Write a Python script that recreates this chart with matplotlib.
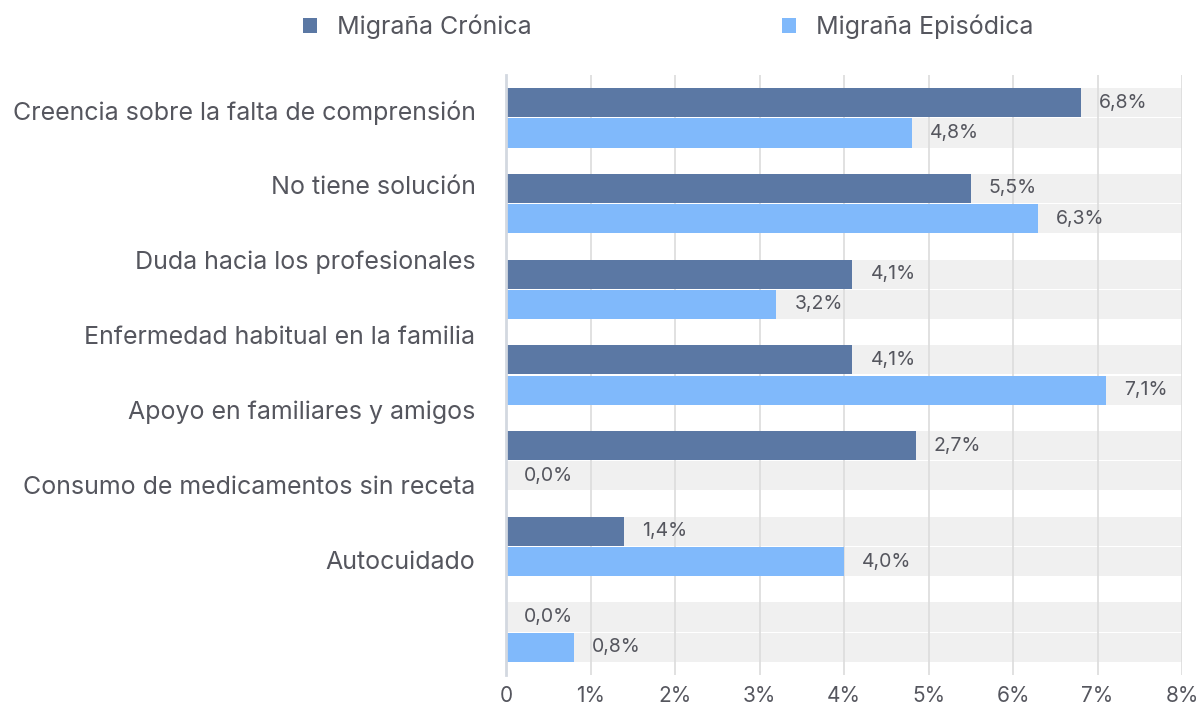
import matplotlib.pyplot as plt
import numpy as np

plt.rcParams['font.family'] = ['Inter', 'DejaVu Sans']

# categories as printed on the left (7 labels, 8 label slots)
labels = ["Creencia sobre la falta de comprensión", "No tiene solución",
          "Duda hacia los profesionales", "Enfermedad habitual en la familia",
          "Apoyo en familiares y amigos", "Consumo de medicamentos sin receta",
          "Autocuidado"]

# bar lengths as drawn (%), one pair per group
cronica = [6.8, 5.5, 4.1, 4.1, 4.85, 1.4, 0.0]
episodica = [4.8, 6.3, 3.2, 7.1, 0.0, 4.0, 0.8]
# value texts as printed next to the bars
cronica_txt = ["6,8%", "5,5%", "4,1%", "4,1%", "2,7%", "1,4%", "0,0%"]
episodica_txt = ["4,8%", "6,3%", "3,2%", "7,1%", "0,0%", "4,0%", "0,8%"]

xticks = [0, 1, 2, 3, 4, 5, 6, 7, 8]
xticklabels = ["0", "1%", "2%", "3%", "4%", "5%", "6%", "7%", "8%"]

c_dark = "#5b78a4"
c_light = "#80b9fb"
c_bg = "#f0f0f0"
c_text = "#55565e"

fig = plt.figure(figsize=(12, 7.06), dpi=100)
ax = fig.add_axes([506 / 1200, 1 - 675 / 706, 676 / 1200, 600 / 706])

n = len(cronica)
y = np.arange(n)
h = 0.34
off = 0.177

# grey track behind every bar
ax.barh(y - off, [8] * n, height=h, color=c_bg, zorder=1)
ax.barh(y + off, [8] * n, height=h, color=c_bg, zorder=1)
b1 = ax.barh(y - off, cronica, height=h, color=c_dark, zorder=3, label="Migraña Crónica")
b2 = ax.barh(y + off, episodica, height=h, color=c_light, zorder=3, label="Migraña Episódica")

for i in range(n):
    ax.annotate(cronica_txt[i], (cronica[i], y[i] - off), xytext=(18, 0),
                textcoords="offset pixels", va="center", ha="left",
                fontsize=14, color=c_text, zorder=4)
    ax.annotate(episodica_txt[i], (episodica[i], y[i] + off), xytext=(18, 0),
                textcoords="offset pixels", va="center", ha="left",
                fontsize=14, color=c_text, zorder=4)

ax.set_xlim(0, 8)
ax.set_ylim(n - 0.5, -0.5)
ax.set_xticks(xticks)
ax.set_xticklabels(xticklabels, fontsize=15, color=c_text)
ax.xaxis.grid(True, color="#dcdcdc", linewidth=1.2, zorder=2)
ax.set_axisbelow(False)

# labels sit in 8 equal slots down the axis height
slot = n / 8
ax.set_yticks([-0.5 + (j + 0.5) * slot - 0.03 for j in range(len(labels))])
ax.set_yticklabels(labels, fontsize=18, color=c_text)
ax.tick_params(axis="both", length=0)
ax.tick_params(axis="y", pad=22)
ax.tick_params(axis="x", pad=8)

for s in ["top", "right", "bottom"]:
    ax.spines[s].set_visible(False)
ax.spines["left"].set_color("#d3d8e0")
ax.spines["left"].set_linewidth(2)
ax.spines["left"].set_zorder(5)

fig.legend(handles=[b1, b2], loc="center", bbox_to_anchor=(0.557, 1 - 27 / 706),
           ncol=2, frameon=False, fontsize=18, handlelength=0.56, handleheight=0.56,
           handletextpad=0.8, columnspacing=10, labelcolor=c_text)

fig.savefig("out.png", dpi=100)
